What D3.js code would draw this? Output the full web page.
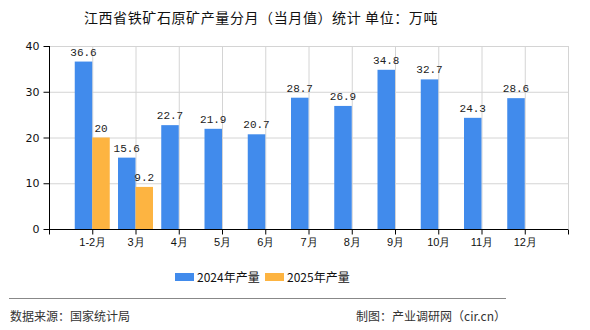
<!DOCTYPE html>
<html><head><meta charset="utf-8">
<script src="https://cdn.jsdelivr.net/npm/d3@7"></script>
<style>body{margin:0;background:#fff;}svg{display:block;font-family:"Noto Sans CJK SC","DejaVu Sans",sans-serif;}</style>
</head><body><svg id="c" width="590" height="330"></svg>
<script>
const categories = ["1-2月","3月","4月","5月","6月","7月","8月","9月","10月","11月","12月"];
const series2024 = [36.6,15.6,22.7,21.9,20.7,28.7,26.9,34.8,32.7,24.3,28.6];
const series2025 = [20,9.2,null,null,null,null,null,null,null,null,null];
const seriesNames = ["2024年产量","2025年产量"];
const yTicks = [0,10,20,30,40];
const colors = ["#418bec","#fdb441"];

const svg = d3.select("#c");
const L=49,R=568,T=46,B=229;
const x = d3.scalePoint().domain(categories).range([L,R]).padding(1);
const y = d3.scaleLinear().domain([0,40]).range([B,T]);
const bw = 17.5;

// grid
const g = svg.append("g");
g.selectAll(".hg").data(yTicks.filter(d=>d>0)).join("line")
 .attr("x1",L).attr("x2",R).attr("y1",d=>y(d)+0.5).attr("y2",d=>y(d)+0.5)
 .attr("stroke","#d4d4d4");
g.selectAll(".vg").data(categories).join("line")
 .attr("x1",d=>x(d)+0.5).attr("x2",d=>x(d)+0.5).attr("y1",T).attr("y2",B)
 .attr("stroke","#d4d4d4");
g.append("line").attr("x1",R+0.5).attr("x2",R+0.5).attr("y1",T).attr("y2",B).attr("stroke","#d4d4d4");

// bars
const data = [series2024, series2025];
data.forEach((s,si)=>{
  const gg = svg.append("g");
  const pts = categories.map((c,i)=>({c,v:s[i]})).filter(d=>d.v!=null);
  gg.selectAll("rect").data(pts).join("rect")
   .attr("x",d=>x(d.c)+(si===0?-bw:0)).attr("width",bw)
   .attr("y",d=>y(d.v)).attr("height",d=>B-y(d.v)).attr("fill",colors[si]);
  gg.selectAll("text").data(pts).join("text")
   .attr("x",d=>x(d.c)+(si===0?-bw/2:bw/2)).attr("y",d=>y(d.v)-6)
   .attr("text-anchor","middle").attr("font-size",11).attr("fill","#222")
   .attr("font-family","'Liberation Mono','DejaVu Sans Mono',monospace")
   .text(d=>d.v);
});

// axes
const ya = d3.axisLeft(y).tickValues(yTicks).tickSize(6).tickPadding(4);
const yg = svg.append("g").attr("transform",`translate(${L+0.5},0)`).call(ya);
yg.select(".domain").attr("d",`M0,${T}V${B}`).attr("stroke","#000");
yg.selectAll("text").attr("font-size",11).attr("fill","#111").attr("font-family","'DejaVu Sans',sans-serif");
const xa = d3.axisBottom(x).tickSize(5).tickPadding(4);
const xg = svg.append("g").attr("transform",`translate(0,${B+0.5})`).call(xa);
xg.select(".domain").attr("d",`M${L},0H${R}`).attr("stroke","#000");
xg.selectAll("text").attr("font-size",11).attr("fill","#111");
xg.append("line").attr("x1",L+0.5).attr("x2",L+0.5).attr("y1",0).attr("y2",5).attr("stroke","#000");
xg.append("line").attr("x1",R+0.5).attr("x2",R+0.5).attr("y1",0).attr("y2",5).attr("stroke","#000");

// title
svg.append("text").attr("x",261).attr("y",23).attr("text-anchor","middle")
 .attr("font-size",14).attr("letter-spacing","0.6").attr("fill","#111").text("江西省铁矿石原矿产量分月（当月值）统计 单位：万吨");

// legend
const lg = [{x:175,n:seriesNames[0],c:colors[0]},{x:265,n:seriesNames[1],c:colors[1]}];
lg.forEach(d=>{
  svg.append("rect").attr("x",d.x).attr("y",273).attr("width",19).attr("height",8).attr("fill",d.c);
  svg.append("text").attr("x",d.x+22).attr("y",281.5).attr("font-size",12).attr("fill","#111").text(d.n);
});

// footer
svg.append("line").attr("x1",9).attr("x2",506).attr("y1",298.5).attr("y2",298.5).attr("stroke","#888");
svg.append("text").attr("x",10).attr("y",321).attr("font-size",12).attr("fill","#333").text("数据来源：国家统计局");
svg.append("text").attr("x",506).attr("y",321).attr("text-anchor","end").attr("font-size",12).attr("fill","#333").text("制图：产业调研网（cir.cn）");
</script></body></html>
